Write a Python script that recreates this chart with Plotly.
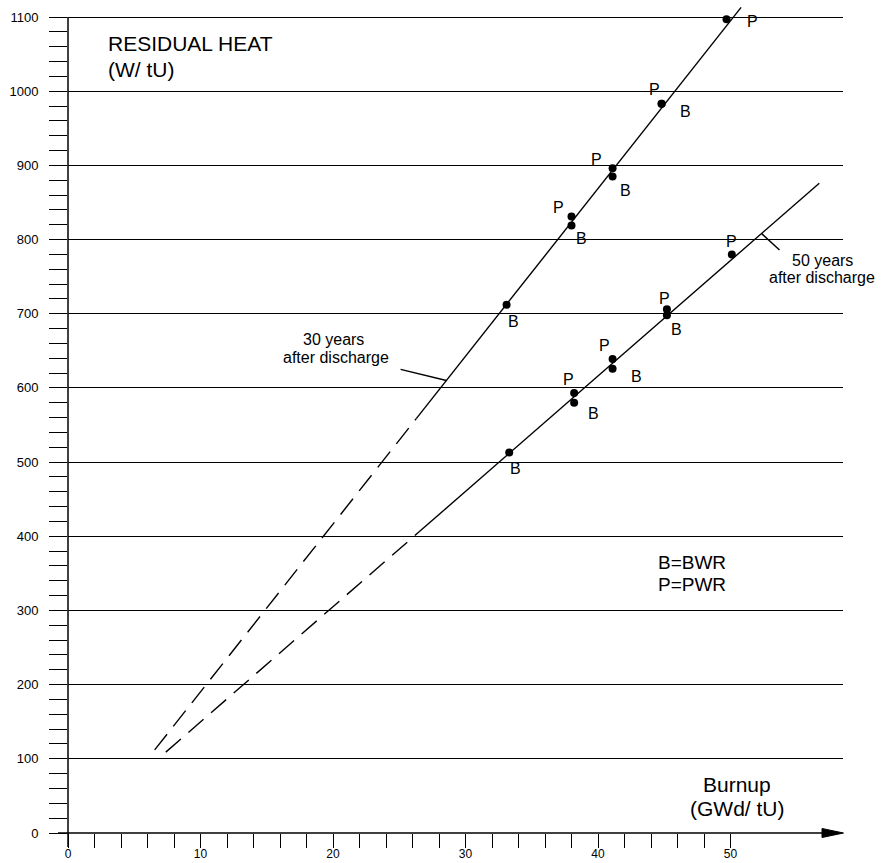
import plotly.graph_objects as go

# ---------------- data ----------------
# 30 years after discharge
burnup_pwr_30 = [38.0, 41.1, 44.8, 49.7]
heat_pwr_30 = [831, 896, 983, 1097]
burnup_bwr_30 = [33.1, 38.0, 41.1, 44.8]
heat_bwr_30 = [712, 819, 885, 983]
# 50 years after discharge
burnup_pwr_50 = [38.2, 41.1, 45.2, 50.1]
heat_pwr_50 = [593, 639, 706, 780]
burnup_bwr_50 = [33.3, 38.2, 41.1, 45.2]
heat_bwr_50 = [513, 580, 626, 698]

# fitted trend lines (dashed extrapolation + solid part)
line30_dash_x = [6.54, 26.3]
line30_dash_y = [112, 559]
line30_solid_x = [26.3, 50.8]
line30_solid_y = [559, 1113]
line50_dash_x = [7.38, 26.5]
line50_dash_y = [109, 406]
line50_solid_x = [26.5, 56.7]
line50_solid_y = [406, 876]

# leader lines of the curve labels
leader30_x = [25.1, 28.56]
leader30_y = [625, 610]
leader50_x = [52.35, 53.7]
leader50_y = [808, 786]

x_major = [0, 10, 20, 30, 40, 50]
x_minor = list(range(0, 51, 2))

# ---------------- layout geometry ----------------
FONT = "Liberation Sans, Arial, Helvetica, sans-serif"
WIDTH, HEIGHT = 881, 863
L, R, T, B = 68, 38, 6, 30
PW = WIDTH - L - R
PH = HEIGHT - T - B
XMAX = PW / 13.25
YMAX = PH / 0.7418


def px(xp):
    return (xp - L) / PW


def py(yp):
    return (HEIGHT - B - yp) / PH


fig = go.Figure()

# trend lines
for xs, ys, dash in [
    (line30_dash_x, line30_dash_y, "20px,10px"),
    (line30_solid_x, line30_solid_y, "solid"),
    (line50_dash_x, line50_dash_y, "20px,10px"),
    (line50_solid_x, line50_solid_y, "solid"),
    (leader30_x, leader30_y, "solid"),
    (leader50_x, leader50_y, "solid"),
]:
    fig.add_trace(go.Scatter(x=xs, y=ys, mode="lines",
                             line=dict(color="black", width=1.4, dash=dash),
                             showlegend=False, hoverinfo="skip"))

# data points
for xs, ys in [(burnup_pwr_30, heat_pwr_30), (burnup_bwr_30, heat_bwr_30),
               (burnup_pwr_50, heat_pwr_50), (burnup_bwr_50, heat_bwr_50)]:
    fig.add_trace(go.Scatter(x=xs, y=ys, mode="markers",
                             marker=dict(color="black", size=8),
                             showlegend=False))

# P / B labels next to the points (pixel offsets dx, dy screen)
label_offsets = [
    ("P", burnup_pwr_30, heat_pwr_30, [(-13, -9), (-16, -9), (-7, -14), (26, 2)]),
    ("B", burnup_bwr_30, heat_bwr_30, [(7, 17), (10, 13), (13, 14), (24, 8)]),
    ("P", burnup_pwr_50, heat_pwr_50, [(-6, -14), (-8, -13), (-2, -11), (0, -13)]),
    ("B", burnup_bwr_50, heat_bwr_50, [(6, 16), (19, 11), (24, 8), (10, 14)]),
]
annotations = []
for txt, xs, ys, offs in label_offsets:
    for xv, yv, (dx, dy) in zip(xs, ys, offs):
        annotations.append(dict(x=xv, y=yv, xref="x", yref="y", text=txt,
                                showarrow=False, xshift=dx, yshift=-dy,
                                font=dict(size=16, color="black", family=FONT)))


def ptext(text, xp, yp, size, xanchor="center"):
    annotations.append(dict(x=px(xp), y=py(yp), xref="paper", yref="paper",
                            text=text, showarrow=False, xanchor=xanchor,
                            yanchor="middle",
                            font=dict(size=size, color="black", family=FONT)))


ptext("RESIDUAL HEAT", 106, 44, 21, "left")
ptext("(W/ tU)", 106, 69, 21, "left")
ptext("Burnup", 737, 784, 21)
ptext("(GWd/ tU)", 737, 808, 21)
ptext("B=BWR", 656, 562, 19, "left")
ptext("P=PWR", 656, 584, 19, "left")
ptext("30 years", 333, 340, 16)
ptext("after discharge", 336, 357, 16)
ptext("50 years", 822, 260, 16)
ptext("after discharge", 822, 277, 16)

shapes = [
    # y axis line
    dict(type="line", xref="paper", yref="paper", x0=0, x1=0,
         y0=py(847), y1=py(17), line=dict(color="black", width=1.5)),
    # x axis line
    dict(type="line", xref="paper", yref="paper", x0=px(58), x1=px(826),
         y0=0, y1=0, line=dict(color="black", width=1.5)),
    # arrow head
    dict(type="path", xref="paper", yref="paper",
         path=f"M {px(822)},{py(828.5)} L {px(843.5)},{py(833)} L {px(822)},{py(837.5)} Z",
         fillcolor="black", line=dict(color="black", width=1)),
]

fig.update_layout(
    width=WIDTH, height=HEIGHT,
    margin=dict(l=L, r=R, t=T, b=B, autoexpand=False),
    paper_bgcolor="white", plot_bgcolor="white",
    showlegend=False,
    annotations=annotations,
    shapes=shapes,
    font=dict(family=FONT, color="black"),
)

fig.update_xaxes(
    range=[0, XMAX], showgrid=False, zeroline=False, showline=False,
    tickmode="array", tickvals=x_major, ticktext=[str(v) for v in x_major],
    ticks="outside", ticklen=14, tickwidth=1.3, tickcolor="black",
    minor=dict(tickmode="array", tickvals=x_minor, ticks="outside",
               ticklen=14, tickwidth=1.3, tickcolor="black", showgrid=False),
    tickfont=dict(size=12, family=FONT, color="black"),
    ticklabelstandoff=-4,
    automargin=False,
)
fig.update_yaxes(
    range=[0, YMAX], showgrid=True, gridcolor="black", gridwidth=1.2,
    zeroline=False, showline=False,
    tick0=0, dtick=100,
    ticks="outside", ticklen=18, tickwidth=1.3, tickcolor="black",
    minor=dict(tick0=0, dtick=20, ticks="outside", ticklen=18, tickwidth=1.3,
               tickcolor="black", showgrid=False),
    tickfont=dict(size=13, family=FONT, color="black"),
    ticklabelstandoff=8,
    automargin=False,
)

fig.write_html("out.html")
